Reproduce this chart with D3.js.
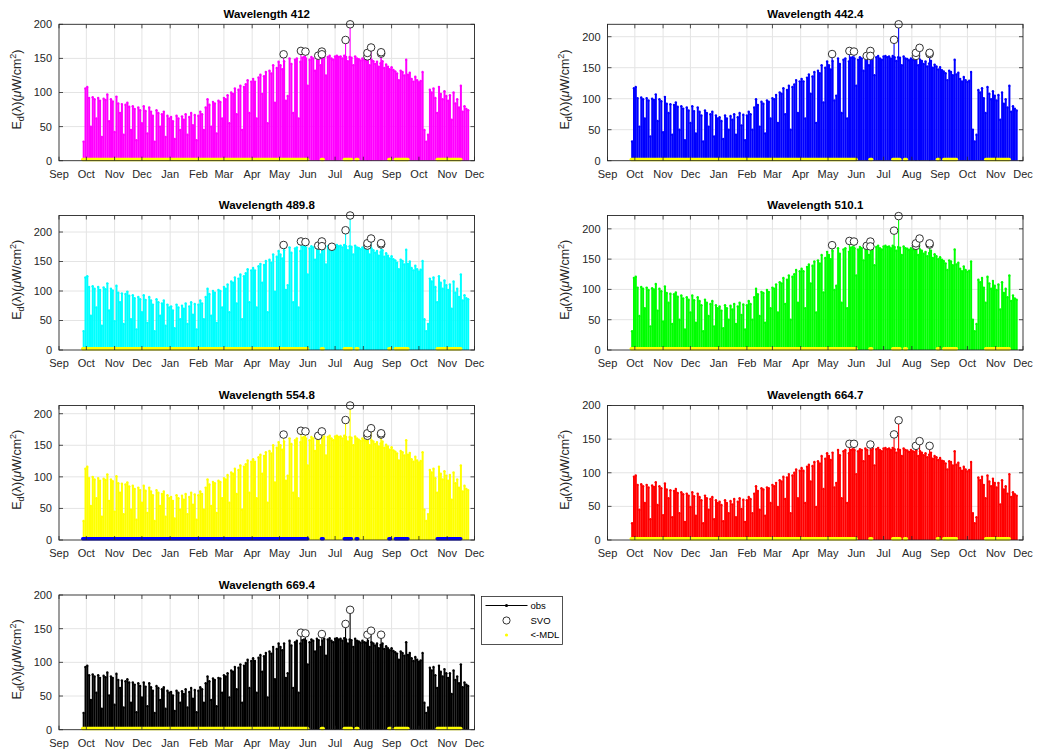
<!DOCTYPE html>
<html>
<head>
<meta charset="utf-8">
<script src="https://cdn.jsdelivr.net/npm/d3@7"></script>
<style>
  body { margin: 0; background: #fff; }
  svg { font-family: "Liberation Sans", Arial, Helvetica, sans-serif; }
</style>
</head>
<body>
<svg id="fig" width="1037" height="752"></svg>
<script>
// ---- Panel definitions -------------------------------------------------
const wavelengths = ["412", "442.4", "489.8", "510.1", "554.8", "664.7", "669.4"];
const seriesColors = ["#ff00ff", "#0000ff", "#00ffff", "#00ff00", "#ffff00", "#ff0000", "#000000"];
const mdlColors = ["#ffff00", "#ffff00", "#ffff00", "#ffff00", "#0000ff", "#ffff00", "#ffff00"];
const yTops = [200, 220, 228, 222, 213, 200, 200];
const yTickValues = [0, 50, 100, 150, 200];
const axisStart = "2018-09-01";
const axisEnd = "2019-12-01";

// Daily-peak downwelling irradiance, one value per two-day record,
// starting 2018-09-27 (µW/cm²).
const firstRecord = "2018-09-27";
const recordDays = 2;

const obs412 = [
  28, 106,
  108, 92, 50, 93, 90, 62, 92, 88, 35, 91, 89, 97, 58, 90, 87, 42,
  94, 84, 70, 83, 38, 82, 85, 79, 45, 80, 76, 30, 78, 74, 55,
  80, 73, 40, 78, 72, 66, 28, 74, 70, 50, 68, 72, 35, 66, 62,
  64, 58, 32, 66, 62, 45, 65, 60, 68, 38, 64, 70, 52, 67, 30, 66,
  72, 68, 45, 78, 90, 82, 50, 86, 84, 40, 88, 86, 62, 92,
  90, 96, 55, 100, 98, 106, 68, 104, 110, 45, 108, 112, 118, 70, 116,
  120, 116, 62, 122, 126, 98, 124, 130, 55, 132, 128, 140, 85, 136, 145,
  140, 134, 146, 88, 95, 150, 142, 70, 148, 150, 62, 145, 151, 152, 150, 110,
  148, 152, 150, 132, 153, 151, 140, 150, 153, 125, 152, 154, 150, 148, 153,
  154, 152, 153, 150, 154, 152, 146, 152, 151, 140, 153, 150, 149, 147, 150,
  148, 147, 150, 140, 148, 146, 142, 145, 138, 143, 146, 136, 141, 138, 134, 137,
  133, 131, 128, 118, 132, 130, 125, 148, 126, 129, 120, 116, 123, 118, 115,
  117, 130, 45, 28, 38, 104, 100, 106, 92, 70, 108, 98, 90, 102, 95,
  88, 96, 60, 100, 84, 90, 78, 110, 72, 80, 76, 74
];
const obs442 = [
  31, 117,
  119, 101, 55, 102, 99, 68, 101, 97, 39, 100, 98, 107, 64, 99, 96, 46,
  103, 92, 77, 91, 42, 90, 94, 87, 50, 88, 84, 33, 86, 81, 61,
  88, 80, 44, 86, 79, 73, 31, 81, 77, 55, 75, 79, 39, 73, 68,
  70, 64, 35, 73, 68, 50, 72, 66, 75, 42, 70, 77, 57, 74, 33, 73,
  79, 75, 50, 86, 99, 90, 55, 95, 92, 44, 97, 95, 68, 101,
  99, 106, 61, 110, 108, 117, 75, 114, 121, 50, 119, 123, 130, 77, 128,
  132, 128, 68, 134, 139, 108, 136, 143, 61, 145, 141, 154, 94, 150, 160,
  154, 147, 161, 97, 105, 165, 156, 77, 163, 165, 68, 160, 166, 167, 165, 121,
  163, 167, 165, 145, 168, 166, 154, 165, 168, 138, 167, 169, 165, 163, 168,
  169, 167, 168, 165, 169, 167, 161, 167, 166, 154, 168, 165, 164, 162, 165,
  163, 162, 165, 154, 163, 161, 156, 160, 152, 157, 161, 150, 155, 152, 147, 151,
  146, 144, 141, 130, 145, 143, 138, 163, 139, 142, 132, 128, 135, 130, 127,
  129, 143, 50, 31, 42, 114, 110, 117, 101, 77, 119, 108, 99, 112, 105,
  97, 106, 66, 110, 92, 99, 86, 121, 79, 88, 84, 81
];
const obs490 = [
  32, 123,
  125, 107, 58, 108, 104, 72, 107, 102, 41, 106, 103, 113, 67, 104, 101, 49,
  109, 97, 81, 96, 44, 95, 99, 92, 52, 93, 88, 35, 90, 86, 64,
  93, 85, 46, 90, 84, 77, 32, 86, 81, 58, 79, 84, 41, 77, 72,
  74, 67, 37, 77, 72, 52, 75, 70, 79, 44, 74, 81, 60, 78, 35, 77,
  84, 79, 52, 90, 104, 95, 58, 100, 97, 46, 102, 100, 72, 107,
  104, 111, 64, 116, 114, 123, 79, 121, 128, 52, 125, 130, 137, 81, 135,
  139, 135, 72, 142, 146, 114, 144, 151, 64, 153, 148, 162, 99, 158, 168,
  162, 155, 169, 102, 110, 174, 165, 81, 172, 174, 72, 168, 175, 176, 174, 128,
  172, 176, 174, 153, 177, 175, 162, 174, 177, 145, 176, 178, 174, 172, 177,
  178, 176, 177, 174, 178, 176, 169, 176, 175, 162, 177, 174, 173, 171, 174,
  172, 171, 174, 162, 172, 169, 165, 168, 160, 166, 169, 158, 164, 160, 155, 159,
  154, 152, 148, 137, 153, 151, 145, 170, 146, 150, 139, 135, 143, 137, 133,
  136, 151, 52, 32, 44, 121, 116, 123, 107, 81, 125, 114, 104, 118, 110,
  102, 111, 70, 116, 97, 104, 90, 128, 84, 93, 88, 86
];
const obs510 = [
  31, 119,
  121, 103, 56, 104, 101, 69, 103, 99, 39, 102, 100, 109, 65, 101, 97, 47,
  105, 94, 78, 93, 43, 92, 95, 88, 50, 90, 85, 34, 87, 83, 62,
  90, 82, 45, 87, 81, 74, 31, 83, 78, 56, 76, 81, 39, 74, 69,
  72, 65, 36, 74, 69, 50, 73, 67, 76, 43, 72, 78, 58, 75, 34, 74,
  81, 76, 50, 87, 101, 92, 56, 96, 94, 45, 99, 96, 69, 103,
  101, 108, 62, 112, 110, 119, 76, 116, 123, 50, 121, 125, 132, 78, 130,
  134, 130, 69, 137, 141, 110, 139, 146, 62, 148, 143, 157, 95, 152, 162,
  157, 150, 164, 99, 106, 168, 159, 78, 166, 168, 69, 162, 169, 170, 168, 123,
  166, 170, 168, 148, 171, 169, 157, 168, 171, 140, 170, 172, 168, 166, 171,
  172, 170, 171, 168, 172, 170, 164, 170, 169, 157, 171, 168, 167, 165, 168,
  166, 165, 168, 157, 166, 164, 159, 162, 155, 160, 164, 152, 158, 155, 150, 153,
  149, 147, 143, 132, 148, 146, 140, 166, 141, 144, 134, 130, 138, 132, 129,
  131, 146, 50, 31, 43, 116, 112, 119, 103, 78, 121, 110, 101, 114, 106,
  99, 108, 67, 112, 94, 101, 87, 123, 81, 90, 85, 83
];
const obs555 = [
  30, 113,
  116, 98, 54, 100, 96, 66, 98, 94, 37, 97, 95, 104, 62, 96, 93, 45,
  101, 90, 75, 89, 41, 88, 91, 85, 48, 86, 81, 32, 83, 79, 59,
  86, 78, 43, 83, 77, 71, 30, 79, 75, 54, 73, 77, 37, 71, 66,
  68, 62, 34, 71, 66, 48, 70, 64, 73, 41, 68, 75, 56, 72, 32, 71,
  77, 73, 48, 83, 96, 88, 54, 92, 90, 43, 94, 92, 66, 98,
  96, 103, 59, 107, 105, 113, 73, 111, 118, 48, 116, 120, 126, 75, 124,
  128, 124, 66, 131, 135, 105, 133, 139, 59, 141, 137, 150, 91, 146, 155,
  150, 143, 156, 94, 102, 161, 152, 75, 158, 161, 66, 155, 162, 163, 161, 118,
  158, 163, 161, 141, 164, 162, 150, 161, 164, 134, 163, 165, 161, 158, 164,
  165, 163, 164, 161, 165, 163, 156, 163, 162, 150, 164, 161, 159, 157, 161,
  158, 157, 161, 150, 158, 156, 152, 155, 148, 153, 156, 146, 151, 148, 143, 147,
  142, 140, 137, 126, 141, 139, 134, 158, 135, 138, 128, 124, 132, 126, 123,
  125, 139, 48, 30, 41, 111, 107, 113, 98, 75, 116, 105, 96, 109, 102,
  94, 103, 64, 107, 90, 96, 83, 118, 77, 86, 81, 79
];
const obs665 = [
  25, 94,
  96, 82, 45, 83, 80, 55, 82, 78, 31, 81, 79, 86, 52, 80, 77, 37,
  84, 75, 62, 74, 34, 73, 76, 70, 40, 71, 68, 27, 69, 66, 49,
  71, 65, 36, 69, 64, 59, 25, 66, 62, 45, 61, 64, 31, 59, 55,
  57, 52, 28, 59, 55, 40, 58, 53, 61, 34, 57, 62, 46, 60, 27, 59,
  64, 61, 40, 69, 80, 73, 45, 77, 75, 36, 78, 77, 55, 82,
  80, 85, 49, 89, 87, 94, 61, 93, 98, 40, 96, 100, 105, 62, 103,
  107, 103, 55, 109, 112, 87, 110, 116, 49, 117, 114, 125, 76, 121, 129,
  125, 119, 130, 78, 85, 134, 126, 62, 132, 134, 55, 129, 134, 135, 134, 98,
  132, 135, 134, 117, 136, 134, 125, 134, 136, 111, 135, 137, 134, 132, 136,
  137, 135, 136, 134, 137, 135, 130, 135, 134, 125, 136, 134, 133, 131, 134,
  132, 131, 134, 125, 132, 130, 126, 129, 123, 127, 130, 121, 125, 123, 119, 122,
  118, 117, 114, 105, 117, 116, 111, 132, 112, 115, 107, 103, 109, 105, 102,
  104, 116, 40, 25, 34, 93, 89, 94, 82, 62, 96, 87, 80, 91, 85,
  78, 85, 53, 89, 75, 80, 69, 98, 64, 71, 68, 66
];
const obs669 = [
  25, 93,
  95, 81, 44, 82, 79, 55, 81, 77, 31, 80, 78, 85, 51, 79, 77, 37,
  83, 74, 62, 73, 33, 72, 75, 70, 40, 70, 67, 26, 69, 65, 48,
  70, 64, 35, 69, 63, 58, 25, 65, 62, 44, 60, 63, 31, 58, 55,
  56, 51, 28, 58, 55, 40, 57, 53, 60, 33, 56, 62, 46, 59, 26, 58,
  63, 60, 40, 69, 79, 72, 44, 76, 74, 35, 77, 76, 55, 81,
  79, 84, 48, 88, 86, 93, 60, 92, 97, 40, 95, 99, 104, 62, 102,
  106, 102, 55, 107, 111, 86, 109, 114, 48, 116, 113, 123, 75, 120, 128,
  123, 118, 128, 77, 84, 132, 125, 62, 130, 132, 55, 128, 133, 134, 132, 97,
  130, 134, 132, 116, 135, 133, 123, 132, 135, 110, 134, 136, 132, 130, 135,
  136, 134, 135, 132, 136, 134, 128, 134, 133, 123, 135, 132, 131, 129, 132,
  130, 129, 132, 123, 130, 128, 125, 128, 121, 126, 128, 120, 124, 121, 118, 121,
  117, 115, 113, 104, 116, 114, 110, 130, 111, 114, 106, 102, 108, 104, 101,
  103, 114, 40, 25, 33, 92, 88, 93, 81, 62, 95, 86, 79, 90, 84,
  77, 84, 53, 88, 74, 79, 69, 97, 63, 70, 67, 65
];

// SVO-flagged observations: [date, value]
const svo412 = [["2019-05-05",156],["2019-05-24",161],["2019-05-29",160],["2019-06-12",154],["2019-06-16",160],["2019-06-16",156],["2019-07-12",177],["2019-07-17",200],["2019-08-05",153],["2019-08-05",158],["2019-08-09",166],["2019-08-20",157],["2019-08-20",159]];
const svo442 = [["2019-05-05",172],["2019-05-24",177],["2019-05-29",176],["2019-06-12",169],["2019-06-16",177],["2019-06-16",169],["2019-07-12",195],["2019-07-17",220],["2019-08-05",169],["2019-08-05",174],["2019-08-09",182],["2019-08-20",172],["2019-08-20",174]];
const svo490 = [["2019-05-05",178],["2019-05-24",184],["2019-05-29",183],["2019-06-12",177],["2019-06-16",184],["2019-06-16",176],["2019-06-27",175],["2019-07-12",203],["2019-07-17",228],["2019-08-05",177],["2019-08-05",181],["2019-08-09",189],["2019-08-20",179],["2019-08-20",181]];
const svo510 = [["2019-05-05",173],["2019-05-24",180],["2019-05-29",179],["2019-06-12",172],["2019-06-16",179],["2019-06-16",171],["2019-07-12",197],["2019-07-17",221],["2019-08-05",172],["2019-08-05",176],["2019-08-09",184],["2019-08-20",174],["2019-08-20",176]];
const svo555 = [["2019-05-05",167],["2019-05-24",173],["2019-05-29",172],["2019-06-12",165],["2019-06-16",172],["2019-07-12",190],["2019-07-17",213],["2019-08-05",165],["2019-08-05",169],["2019-08-09",177],["2019-08-20",167],["2019-08-20",169]];
const svo665 = [["2019-05-24",143],["2019-05-29",143],["2019-06-16",142],["2019-07-12",157],["2019-07-17",178],["2019-08-05",140],["2019-08-09",147],["2019-08-20",140]];
const svo669 = [["2019-05-24",144],["2019-05-29",143],["2019-06-16",142],["2019-07-12",157],["2019-07-17",178],["2019-08-05",141],["2019-08-09",147],["2019-08-20",141]];

// Periods where night-time readings fall below the minimum detection limit
const mdlPeriods = [
  ["2018-09-27", "2019-05-31"],
  ["2019-06-16", "2019-06-17"],
  ["2019-07-11", "2019-07-18"],
  ["2019-07-24", "2019-07-25"],
  ["2019-08-29", "2019-08-30"],
  ["2019-09-05", "2019-09-18"],
  ["2019-10-21", "2019-11-15"]
];

const obsSeries = [obs412, obs442, obs490, obs510, obs555, obs665, obs669];
const svoSeries = [svo412, svo442, svo490, svo510, svo555, svo665, svo669];

// ---- Layout -----------------------------------------------------------
const colLeft = [59, 607.5];
const rowTop = [24.3, 215.5, 405.5, 595];
const rowBottom = [160.7, 350, 540, 729.7];
const plotW = 415.5;

const parse = d3.timeParse("%Y-%m-%d");
const fmtMonth = d3.timeFormat("%b");
const axisColor = "#262626";
const gridColor = "#e4e4e4";

const svg = d3.select("#fig");
svg.append("rect").attr("width", 1037).attr("height", 752).attr("fill", "#fff");

const start0 = parse(firstRecord);

wavelengths.forEach((wl, p) => {
  const col = p % 2, row = Math.floor(p / 2);
  const left = colLeft[col], top = rowTop[row];
  const h = rowBottom[row] - top;
  const g = svg.append("g").attr("transform", `translate(${left},${top})`);

  const x = d3.scaleTime().domain([parse(axisStart), parse(axisEnd)]).range([0, plotW]);
  const y = d3.scaleLinear().domain([0, yTops[p]]).range([h, 0]);
  const monthTicks = x.ticks(d3.timeMonth.every(1));

  // grid
  g.append("g").selectAll("line").data(monthTicks.slice(1, -1)).join("line")
    .attr("x1", d => x(d)).attr("x2", d => x(d)).attr("y1", 0).attr("y2", h)
    .attr("stroke", gridColor).attr("stroke-width", 1);
  g.append("g").selectAll("line").data(yTickValues.filter(v => v > 0 && v < yTops[p])).join("line")
    .attr("x1", 0).attr("x2", plotW).attr("y1", d => y(d)).attr("y2", d => y(d))
    .attr("stroke", gridColor).attr("stroke-width", 1);

  // observations: one column per record, peak marker on top
  const recs = obsSeries[p].map((v, i) => ({
    t0: d3.timeDay.offset(start0, i * recordDays),
    t1: d3.timeDay.offset(start0, (i + 1) * recordDays),
    v
  }));
  const color = seriesColors[p];
  g.append("g").selectAll("rect").data(recs).join("rect")
    .attr("x", d => x(d.t0))
    .attr("width", d => x(d.t1) - x(d.t0) + 0.15)
    .attr("y", d => y(d.v))
    .attr("height", d => y(0) - y(d.v))
    .attr("fill", color);
  g.append("g").selectAll("circle").data(recs).join("circle")
    .attr("cx", d => (x(d.t0) + x(d.t1)) / 2)
    .attr("cy", d => y(d.v))
    .attr("r", 1.2)
    .attr("fill", color);

  // SVO stems
  const svo = svoSeries[p].map(([dt, v]) => ({ t: d3.timeHour.offset(parse(dt), 12), v }));
  g.append("g").selectAll("line").data(svo).join("line")
    .attr("x1", d => x(d.t)).attr("x2", d => x(d.t))
    .attr("y1", y(0)).attr("y2", d => y(d.v))
    .attr("stroke", color).attr("stroke-width", 1.1);

  // below-MDL markers along the baseline
  g.append("g").selectAll("line").data(mdlPeriods).join("line")
    .attr("x1", d => x(parse(d[0])))
    .attr("x2", d => x(d3.timeDay.offset(parse(d[1]), 1)))
    .attr("y1", y(0) - 1.2).attr("y2", y(0) - 1.2)
    .attr("stroke", mdlColors[p]).attr("stroke-width", 3.4)
    .attr("stroke-linecap", "round");

  // SVO circles
  g.append("g").selectAll("circle").data(svo).join("circle")
    .attr("cx", d => x(d.t)).attr("cy", d => y(d.v))
    .attr("r", 3.8)
    .attr("fill", "#fff").attr("stroke", "#333").attr("stroke-width", 1);

  // axes box
  g.append("rect").attr("x", 0).attr("y", 0).attr("width", plotW).attr("height", h)
    .attr("fill", "none").attr("stroke", axisColor).attr("stroke-width", 0.9);

  // ticks (inside, on all four sides)
  const tl = 4;
  const xt = g.append("g");
  monthTicks.forEach(t => {
    xt.append("line").attr("x1", x(t)).attr("x2", x(t)).attr("y1", h).attr("y2", h - tl)
      .attr("stroke", axisColor).attr("stroke-width", 0.8);
    xt.append("line").attr("x1", x(t)).attr("x2", x(t)).attr("y1", 0).attr("y2", tl)
      .attr("stroke", axisColor).attr("stroke-width", 0.8);
  });
  xt.selectAll("text").data(monthTicks).join("text")
    .attr("x", d => x(d)).attr("y", h + 17)
    .attr("text-anchor", "middle").attr("font-size", 11).attr("fill", axisColor)
    .text(d => fmtMonth(d));

  const yTicks = yTickValues.filter(v => v <= yTops[p]);
  const yt = g.append("g");
  yTicks.forEach(v => {
    yt.append("line").attr("x1", 0).attr("x2", tl).attr("y1", y(v)).attr("y2", y(v))
      .attr("stroke", axisColor).attr("stroke-width", 0.8);
    yt.append("line").attr("x1", plotW).attr("x2", plotW - tl).attr("y1", y(v)).attr("y2", y(v))
      .attr("stroke", axisColor).attr("stroke-width", 0.8);
  });
  yt.selectAll("text").data(yTicks).join("text")
    .attr("x", -7).attr("y", d => y(d)).attr("dy", "0.36em")
    .attr("text-anchor", "end").attr("font-size", 11).attr("fill", axisColor)
    .text(d => d);

  // title
  g.append("text").attr("x", plotW / 2).attr("y", -6.5)
    .attr("text-anchor", "middle").attr("font-size", 11.5).attr("font-weight", "bold")
    .attr("fill", "#000").text("Wavelength " + wl);

  // y label
  const yl = g.append("text")
    .attr("transform", `translate(${-38.5},${h / 2 - 3}) rotate(-90)`)
    .attr("text-anchor", "middle").attr("font-size", 12.5).attr("fill", axisColor);
  yl.append("tspan").text("E");
  yl.append("tspan").attr("font-size", 9).attr("dy", 3).text("d");
  yl.append("tspan").attr("dy", -3).text("(λ)(");
  yl.append("tspan").attr("font-style", "italic").text("μ");
  yl.append("tspan").text("W/cm");
  yl.append("tspan").attr("font-size", 9).attr("dy", -5).text("2");
  yl.append("tspan").attr("dy", 5).text(")");

  // legend beside the last panel
  if (p === wavelengths.length - 1) {
    const lg = svg.append("g").attr("transform", "translate(481.5,596.5)");
    lg.append("rect").attr("width", 81).attr("height", 48)
      .attr("fill", "#fff").attr("stroke", axisColor).attr("stroke-width", 0.8);
    lg.append("line").attr("x1", 4).attr("x2", 46).attr("y1", 9).attr("y2", 9)
      .attr("stroke", "#000").attr("stroke-width", 1);
    lg.append("circle").attr("cx", 25).attr("cy", 9).attr("r", 1.6).attr("fill", "#000");
    lg.append("circle").attr("cx", 25).attr("cy", 24).attr("r", 3.6)
      .attr("fill", "none").attr("stroke", "#333").attr("stroke-width", 1);
    lg.append("circle").attr("cx", 25).attr("cy", 38.5).attr("r", 1.6).attr("fill", "#ffff00");
    const labels = ["obs", "SVO", "<-MDL"];
    lg.selectAll("text.lab").data(labels).join("text")
      .attr("x", 49).attr("y", (d, i) => 12.5 + i * 14.7)
      .attr("font-size", 9.5).attr("fill", "#000")
      .text(d => d);
  }
});
</script>
</body>
</html>
